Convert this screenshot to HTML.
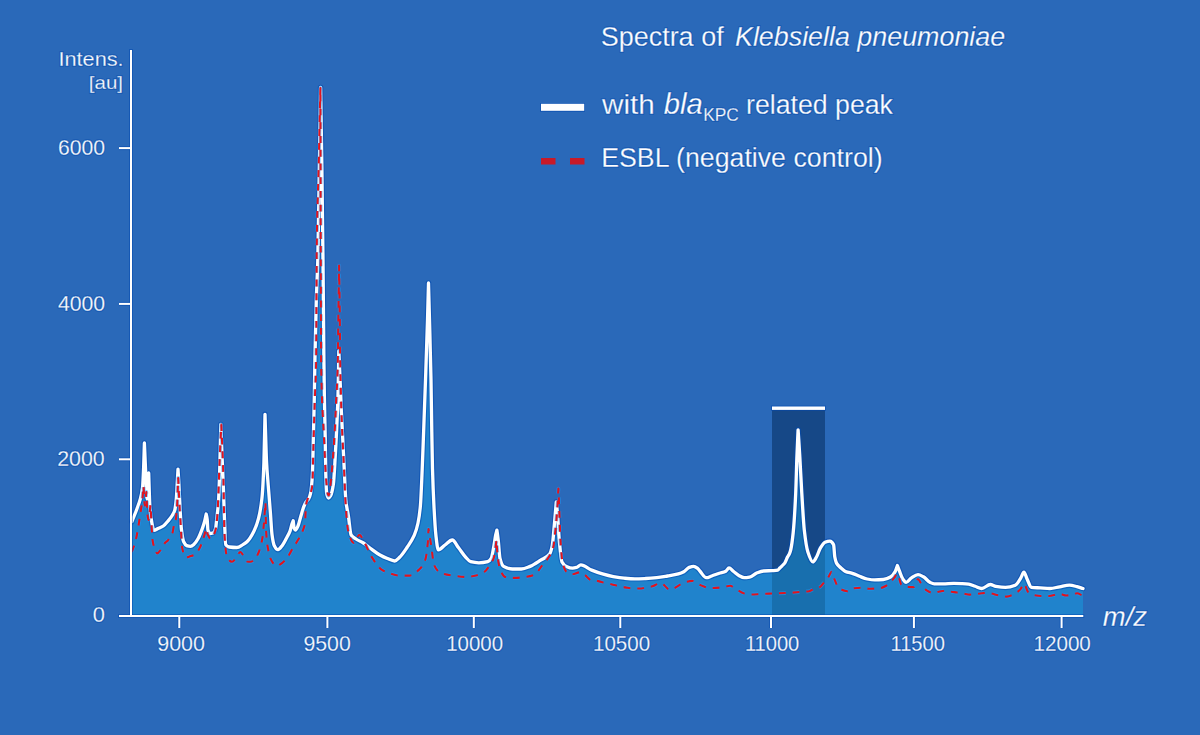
<!DOCTYPE html>
<html><head><meta charset="utf-8"><style>
html,body{margin:0;padding:0;background:#2a69b9;}
body{width:1200px;height:735px;overflow:hidden;position:relative;}
svg{position:absolute;left:0;top:0;}
svg text{font-family:"Liberation Sans",sans-serif;fill:#fff;stroke:#2a69b9;stroke-width:0.3px;}
.halo text{stroke:#0a4fae;stroke-width:2.2px;stroke-opacity:0.6;stroke-linejoin:round;}
</style></head><body>
<svg width="1200" height="735" viewBox="0 0 1200 735">
<defs><clipPath id="rc"><rect x="772" y="410" width="53" height="206"/></clipPath></defs>
<rect x="0" y="0" width="1200" height="735" fill="#2a69b9"/>
<rect x="772" y="410" width="53" height="206" fill="#164887"/>
<path d="M131.90,521.60C133.53,517.47 135.17,513.66 136.80,509.20C138.00,505.92 139.20,503.17 140.40,498.60C141.10,495.93 141.80,493.88 142.50,488.00C142.87,484.92 143.23,476.55 143.60,468.00C143.87,461.78 144.13,451.33 144.40,443.00C144.77,451.33 145.13,460.04 145.50,468.00C146.00,478.85 146.50,499.00 147.00,499.00C147.57,499.00 148.13,481.67 148.70,473.00C149.13,485.00 149.57,503.77 150.00,509.00C150.63,516.65 151.27,519.77 151.90,523.00C152.53,526.23 153.17,530.40 153.80,530.40C155.20,530.40 156.60,529.24 158.00,528.60C159.77,527.79 161.53,527.20 163.30,526.00C164.87,524.94 166.43,522.86 168.00,521.00C169.50,519.22 171.00,517.51 172.50,515.00C173.23,513.77 173.97,512.84 174.70,510.40C175.20,508.74 175.70,504.97 176.20,500.00C176.57,496.35 176.93,488.36 177.30,482.00C177.53,477.95 177.77,473.47 178.00,469.20C178.27,473.47 178.53,477.18 178.80,482.00C179.20,489.22 179.60,500.31 180.00,507.40C180.50,516.26 181.00,525.92 181.50,530.00C182.23,535.98 182.97,540.25 183.70,541.80C184.70,543.92 185.70,545.27 186.70,545.60C187.97,546.02 189.23,546.30 190.50,546.30C191.73,546.30 192.97,545.13 194.20,544.10C195.47,543.05 196.73,541.01 198.00,538.80C199.47,536.24 200.93,532.46 202.40,528.40C203.17,526.28 203.93,523.96 204.70,521.00C205.20,519.07 205.70,516.33 206.20,514.00C206.53,515.80 206.87,516.67 207.20,519.40C207.43,521.31 207.67,529.19 207.90,530.00C208.60,532.43 209.30,533.50 210.00,533.50C210.97,533.50 211.93,533.31 212.90,533.00C213.80,532.72 214.70,531.20 215.60,528.40C216.00,527.15 216.40,521.60 216.80,518.00C217.33,513.21 217.87,510.42 218.40,503.00C218.83,496.97 219.27,483.72 219.70,470.00C220.07,458.39 220.43,439.67 220.80,424.50C221.20,434.67 221.60,445.19 222.00,455.00C222.43,465.63 222.87,474.57 223.30,485.80C223.70,496.16 224.10,510.46 224.50,520.00C224.90,529.54 225.30,544.00 225.70,544.60C226.93,546.45 228.17,546.83 229.40,547.00C231.87,547.33 234.33,547.50 236.80,547.50C238.83,547.50 240.87,545.77 242.90,544.60C244.27,543.81 245.63,542.98 247.00,541.70C249.30,539.55 251.60,535.80 253.90,531.20C255.43,528.13 256.97,524.38 258.50,518.50C259.67,514.03 260.83,508.73 262.00,497.70C262.63,491.71 263.27,479.93 263.90,462.90C264.27,453.04 264.63,430.50 265.00,414.30C265.53,430.50 266.07,452.77 266.60,462.90C267.13,473.03 267.67,477.96 268.20,485.00C268.93,494.68 269.67,503.08 270.40,512.70C270.93,519.69 271.47,530.53 272.00,534.50C272.73,539.96 273.47,543.97 274.20,545.40C275.47,547.87 276.73,549.70 278.00,549.70C279.43,549.70 280.87,547.22 282.30,545.40C283.77,543.54 285.23,540.43 286.70,537.70C287.80,535.66 288.90,534.07 290.00,531.20C290.70,529.37 291.40,525.65 292.10,523.60C292.47,522.52 292.83,521.73 293.20,520.80C293.50,523.20 293.80,527.16 294.10,528.00C294.53,529.21 294.97,530.10 295.40,530.10C296.30,530.10 297.20,527.69 298.10,525.70C299.03,523.64 299.97,519.13 300.90,516.00C301.80,512.98 302.70,509.53 303.60,507.20C304.40,505.13 305.20,503.21 306.00,502.00C306.87,500.69 307.73,500.45 308.60,499.00C309.23,497.94 309.87,496.41 310.50,493.60C311.13,490.79 311.77,485.25 312.40,474.50C312.73,468.84 313.07,449.44 313.40,436.00C313.70,423.91 314.00,413.41 314.30,398.00C314.50,387.73 314.70,370.49 314.90,360.00C315.37,335.51 315.83,315.38 316.30,300.00C316.80,283.52 317.30,278.46 317.80,260.00C318.30,241.54 318.80,200.86 319.30,170.00C319.73,143.25 320.17,115.00 320.60,87.50C321.03,115.00 321.47,138.92 321.90,170.00C322.27,196.30 322.63,225.27 323.00,260.00C323.30,288.42 323.60,333.40 323.90,360.00C324.07,374.78 324.23,388.08 324.40,398.00C324.67,413.87 324.93,421.34 325.20,436.00C325.40,447.00 325.60,467.90 325.80,474.50C326.10,484.40 326.40,492.21 326.70,493.60C327.33,496.52 327.97,498.00 328.60,498.00C329.23,498.00 329.87,497.02 330.50,496.00C331.47,494.44 332.43,490.53 333.40,484.00C334.03,479.72 334.67,466.29 335.30,455.40C335.93,444.51 336.57,432.53 337.20,417.30C337.53,409.28 337.87,402.14 338.20,388.60C338.40,380.47 338.60,363.53 338.80,351.00C339.30,362.33 339.80,373.07 340.30,385.00C340.63,392.95 340.97,402.56 341.30,410.00C341.73,419.68 342.17,427.28 342.60,436.00C343.23,448.74 343.87,461.89 344.50,474.50C344.93,483.13 345.37,495.69 345.80,500.00C346.67,508.62 347.53,510.33 348.40,516.00C349.30,521.89 350.20,533.44 351.10,534.90C352.73,537.54 354.37,537.91 356.00,539.00C358.47,540.64 360.93,541.44 363.40,543.00C365.60,544.39 367.80,546.39 370.00,548.00C373.33,550.43 376.67,553.14 380.00,555.00C382.47,556.38 384.93,557.52 387.40,558.50C389.83,559.47 392.27,561.00 394.70,561.00C396.33,561.00 397.97,558.84 399.60,557.30C402.07,554.97 404.53,551.16 407.00,547.50C409.43,543.89 411.87,540.83 414.30,535.20C415.53,532.35 416.77,528.72 418.00,523.00C418.80,519.29 419.60,514.49 420.40,505.80C421.00,499.28 421.60,482.85 422.20,469.00C422.67,458.22 423.13,444.82 423.60,432.30C424.23,415.31 424.87,398.18 425.50,380.00C426.17,360.87 426.83,342.35 427.50,320.00C427.83,308.83 428.17,295.33 428.50,283.00C428.83,295.33 429.17,307.22 429.50,320.00C430.00,339.17 430.50,354.63 431.00,380.00C431.27,393.53 431.53,416.49 431.80,432.00C432.03,445.57 432.27,460.61 432.50,469.00C432.97,485.79 433.43,495.98 433.90,505.00C434.57,517.88 435.23,529.31 435.90,535.20C436.70,542.26 437.50,549.90 438.30,549.90C440.53,549.90 442.77,546.58 445.00,545.00C447.43,543.28 449.87,540.00 452.30,540.00C454.33,540.00 456.37,544.91 458.40,547.50C460.87,550.64 463.33,554.69 465.80,557.30C467.43,559.03 469.07,561.29 470.70,561.70C473.40,562.38 476.10,562.80 478.80,562.80C481.77,562.80 484.73,562.38 487.70,561.60C488.87,561.29 490.03,560.23 491.20,558.40C492.10,556.99 493.00,550.82 493.90,546.00C494.47,542.97 495.03,538.17 495.60,535.40C496.03,533.28 496.47,531.87 496.90,530.10C497.37,533.63 497.83,536.63 498.30,540.70C498.87,545.64 499.43,556.15 500.00,558.40C501.20,563.16 502.40,565.70 503.60,566.40C506.53,568.11 509.47,569.00 512.40,569.00C515.37,569.00 518.33,569.00 521.30,569.00C524.23,569.00 527.17,567.54 530.10,566.40C533.63,565.03 537.17,562.45 540.70,560.20C543.67,558.31 546.63,557.81 549.60,554.00C550.47,552.89 551.33,550.12 552.20,546.00C552.97,542.35 553.73,531.32 554.50,523.00C555.10,516.49 555.70,508.87 556.30,501.80C556.70,505.93 557.10,509.40 557.50,514.20C558.10,521.40 558.70,534.41 559.30,540.70C560.20,550.14 561.10,560.30 562.00,562.00C563.47,564.77 564.93,565.75 566.40,566.40C568.47,567.32 570.53,568.10 572.60,568.10C573.90,568.10 575.20,567.75 576.50,567.40C577.93,567.01 579.37,564.90 580.80,564.90C584.43,564.90 588.07,568.63 591.70,570.10C595.30,571.56 598.90,572.85 602.50,573.90C606.10,574.95 609.70,575.93 613.30,576.60C616.93,577.27 620.57,577.91 624.20,578.20C627.80,578.49 631.40,578.80 635.00,578.80C638.60,578.80 642.20,578.64 645.80,578.50C649.43,578.35 653.07,578.06 656.70,577.70C660.30,577.34 663.90,576.63 667.50,576.00C671.10,575.37 674.70,574.88 678.30,573.90C680.13,573.40 681.97,572.68 683.80,571.70C685.60,570.74 687.40,568.08 689.20,567.40C690.63,566.86 692.07,566.30 693.50,566.30C694.93,566.30 696.37,567.42 697.80,568.50C698.53,569.05 699.27,570.37 700.00,571.20C702.10,573.59 704.20,577.70 706.30,577.70C708.10,577.70 709.90,576.60 711.70,576.00C714.23,575.16 716.77,574.16 719.30,573.30C721.47,572.57 723.63,572.33 725.80,571.20C726.87,570.64 727.93,567.90 729.00,567.90C730.43,567.90 731.87,570.09 733.30,571.20C735.13,572.62 736.97,574.52 738.80,575.50C740.60,576.46 742.40,577.70 744.20,577.70C746.00,577.70 747.80,577.42 749.60,577.10C752.13,576.65 754.67,573.73 757.20,572.80C759.37,572.00 761.53,571.18 763.70,571.00C766.57,570.76 769.43,570.78 772.30,570.60C774.13,570.48 775.97,570.45 777.80,570.10C778.47,569.97 779.13,568.67 779.80,568.00C780.57,567.23 781.33,566.56 782.10,565.80C782.97,564.94 783.83,564.31 784.70,563.10C785.63,561.80 786.57,558.92 787.50,557.10C788.20,555.73 788.90,554.95 789.60,553.30C790.00,552.36 790.40,551.18 790.80,549.50C791.60,546.14 792.40,540.28 793.20,532.50C794.03,524.40 794.87,511.33 795.70,493.40C796.10,484.80 796.50,467.05 796.90,456.70C797.30,446.35 797.70,438.77 798.10,429.80C798.67,438.77 799.23,447.09 799.80,456.70C800.47,468.01 801.13,482.48 801.80,493.40C802.63,507.05 803.47,522.73 804.30,530.10C805.50,540.72 806.70,548.39 807.90,552.10C809.53,557.15 811.17,561.90 812.80,561.90C814.03,561.90 815.27,559.08 816.50,557.00C817.73,554.92 818.97,550.45 820.20,548.40C821.80,545.74 823.40,542.96 825.00,542.30C826.63,541.63 828.27,541.10 829.90,541.10C831.13,541.10 832.37,542.19 833.60,544.80C834.00,545.65 834.40,554.82 834.80,557.00C835.37,560.09 835.93,562.07 836.50,563.10C838.00,565.83 839.50,566.64 841.00,568.00C842.47,569.32 843.93,570.76 845.40,571.40C847.93,572.51 850.47,572.73 853.00,573.60C855.17,574.34 857.33,575.47 859.50,576.30C862.03,577.27 864.57,578.55 867.10,579.00C869.63,579.45 872.17,579.90 874.70,579.90C877.57,579.90 880.43,579.74 883.30,579.50C885.83,579.29 888.37,578.27 890.90,576.80C892.37,575.95 893.83,574.03 895.30,571.40C896.00,570.15 896.70,567.47 897.40,565.50C898.13,567.47 898.87,569.55 899.60,571.40C900.67,574.10 901.73,577.50 902.80,579.00C903.90,580.55 905.00,582.30 906.10,582.30C907.90,582.30 909.70,579.01 911.50,577.90C913.67,576.56 915.83,574.70 918.00,574.70C919.80,574.70 921.60,575.85 923.40,576.80C925.57,577.94 927.73,581.23 929.90,582.30C931.37,583.03 932.83,583.90 934.30,583.90C937.17,583.90 940.03,583.90 942.90,583.90C946.53,583.90 950.17,583.30 953.80,583.30C956.67,583.30 959.53,583.46 962.40,583.60C964.50,583.70 966.60,583.83 968.70,584.10C970.87,584.38 973.03,585.57 975.20,586.30C977.37,587.03 979.53,588.50 981.70,588.50C984.57,588.50 987.43,584.50 990.30,584.50C992.13,584.50 993.97,585.98 995.80,586.30C999.03,586.87 1002.27,587.40 1005.50,587.40C1008.77,587.40 1012.03,586.54 1015.30,585.20C1017.10,584.46 1018.90,581.00 1020.70,578.20C1021.77,576.54 1022.83,572.20 1023.90,572.20C1025.00,572.20 1026.10,577.08 1027.20,579.30C1028.63,582.19 1030.07,587.22 1031.50,587.40C1034.40,587.76 1037.30,587.73 1040.20,587.90C1043.43,588.09 1046.67,588.50 1049.90,588.50C1053.17,588.50 1056.43,587.35 1059.70,586.80C1062.93,586.25 1066.17,585.20 1069.40,585.20C1071.93,585.20 1074.47,586.00 1077.00,586.60C1079.00,587.07 1081.00,587.87 1083.00,588.50 L1083,616 L131.9,616 Z" fill="#2083cc"/>
<path d="M131.90,521.60C133.53,517.47 135.17,513.66 136.80,509.20C138.00,505.92 139.20,503.17 140.40,498.60C141.10,495.93 141.80,493.88 142.50,488.00C142.87,484.92 143.23,476.55 143.60,468.00C143.87,461.78 144.13,451.33 144.40,443.00C144.77,451.33 145.13,460.04 145.50,468.00C146.00,478.85 146.50,499.00 147.00,499.00C147.57,499.00 148.13,481.67 148.70,473.00C149.13,485.00 149.57,503.77 150.00,509.00C150.63,516.65 151.27,519.77 151.90,523.00C152.53,526.23 153.17,530.40 153.80,530.40C155.20,530.40 156.60,529.24 158.00,528.60C159.77,527.79 161.53,527.20 163.30,526.00C164.87,524.94 166.43,522.86 168.00,521.00C169.50,519.22 171.00,517.51 172.50,515.00C173.23,513.77 173.97,512.84 174.70,510.40C175.20,508.74 175.70,504.97 176.20,500.00C176.57,496.35 176.93,488.36 177.30,482.00C177.53,477.95 177.77,473.47 178.00,469.20C178.27,473.47 178.53,477.18 178.80,482.00C179.20,489.22 179.60,500.31 180.00,507.40C180.50,516.26 181.00,525.92 181.50,530.00C182.23,535.98 182.97,540.25 183.70,541.80C184.70,543.92 185.70,545.27 186.70,545.60C187.97,546.02 189.23,546.30 190.50,546.30C191.73,546.30 192.97,545.13 194.20,544.10C195.47,543.05 196.73,541.01 198.00,538.80C199.47,536.24 200.93,532.46 202.40,528.40C203.17,526.28 203.93,523.96 204.70,521.00C205.20,519.07 205.70,516.33 206.20,514.00C206.53,515.80 206.87,516.67 207.20,519.40C207.43,521.31 207.67,529.19 207.90,530.00C208.60,532.43 209.30,533.50 210.00,533.50C210.97,533.50 211.93,533.31 212.90,533.00C213.80,532.72 214.70,531.20 215.60,528.40C216.00,527.15 216.40,521.60 216.80,518.00C217.33,513.21 217.87,510.42 218.40,503.00C218.83,496.97 219.27,483.72 219.70,470.00C220.07,458.39 220.43,439.67 220.80,424.50C221.20,434.67 221.60,445.19 222.00,455.00C222.43,465.63 222.87,474.57 223.30,485.80C223.70,496.16 224.10,510.46 224.50,520.00C224.90,529.54 225.30,544.00 225.70,544.60C226.93,546.45 228.17,546.83 229.40,547.00C231.87,547.33 234.33,547.50 236.80,547.50C238.83,547.50 240.87,545.77 242.90,544.60C244.27,543.81 245.63,542.98 247.00,541.70C249.30,539.55 251.60,535.80 253.90,531.20C255.43,528.13 256.97,524.38 258.50,518.50C259.67,514.03 260.83,508.73 262.00,497.70C262.63,491.71 263.27,479.93 263.90,462.90C264.27,453.04 264.63,430.50 265.00,414.30C265.53,430.50 266.07,452.77 266.60,462.90C267.13,473.03 267.67,477.96 268.20,485.00C268.93,494.68 269.67,503.08 270.40,512.70C270.93,519.69 271.47,530.53 272.00,534.50C272.73,539.96 273.47,543.97 274.20,545.40C275.47,547.87 276.73,549.70 278.00,549.70C279.43,549.70 280.87,547.22 282.30,545.40C283.77,543.54 285.23,540.43 286.70,537.70C287.80,535.66 288.90,534.07 290.00,531.20C290.70,529.37 291.40,525.65 292.10,523.60C292.47,522.52 292.83,521.73 293.20,520.80C293.50,523.20 293.80,527.16 294.10,528.00C294.53,529.21 294.97,530.10 295.40,530.10C296.30,530.10 297.20,527.69 298.10,525.70C299.03,523.64 299.97,519.13 300.90,516.00C301.80,512.98 302.70,509.53 303.60,507.20C304.40,505.13 305.20,503.21 306.00,502.00C306.87,500.69 307.73,500.45 308.60,499.00C309.23,497.94 309.87,496.41 310.50,493.60C311.13,490.79 311.77,485.25 312.40,474.50C312.73,468.84 313.07,449.44 313.40,436.00C313.70,423.91 314.00,413.41 314.30,398.00C314.50,387.73 314.70,370.49 314.90,360.00C315.37,335.51 315.83,315.38 316.30,300.00C316.80,283.52 317.30,278.46 317.80,260.00C318.30,241.54 318.80,200.86 319.30,170.00C319.73,143.25 320.17,115.00 320.60,87.50C321.03,115.00 321.47,138.92 321.90,170.00C322.27,196.30 322.63,225.27 323.00,260.00C323.30,288.42 323.60,333.40 323.90,360.00C324.07,374.78 324.23,388.08 324.40,398.00C324.67,413.87 324.93,421.34 325.20,436.00C325.40,447.00 325.60,467.90 325.80,474.50C326.10,484.40 326.40,492.21 326.70,493.60C327.33,496.52 327.97,498.00 328.60,498.00C329.23,498.00 329.87,497.02 330.50,496.00C331.47,494.44 332.43,490.53 333.40,484.00C334.03,479.72 334.67,466.29 335.30,455.40C335.93,444.51 336.57,432.53 337.20,417.30C337.53,409.28 337.87,402.14 338.20,388.60C338.40,380.47 338.60,363.53 338.80,351.00C339.30,362.33 339.80,373.07 340.30,385.00C340.63,392.95 340.97,402.56 341.30,410.00C341.73,419.68 342.17,427.28 342.60,436.00C343.23,448.74 343.87,461.89 344.50,474.50C344.93,483.13 345.37,495.69 345.80,500.00C346.67,508.62 347.53,510.33 348.40,516.00C349.30,521.89 350.20,533.44 351.10,534.90C352.73,537.54 354.37,537.91 356.00,539.00C358.47,540.64 360.93,541.44 363.40,543.00C365.60,544.39 367.80,546.39 370.00,548.00C373.33,550.43 376.67,553.14 380.00,555.00C382.47,556.38 384.93,557.52 387.40,558.50C389.83,559.47 392.27,561.00 394.70,561.00C396.33,561.00 397.97,558.84 399.60,557.30C402.07,554.97 404.53,551.16 407.00,547.50C409.43,543.89 411.87,540.83 414.30,535.20C415.53,532.35 416.77,528.72 418.00,523.00C418.80,519.29 419.60,514.49 420.40,505.80C421.00,499.28 421.60,482.85 422.20,469.00C422.67,458.22 423.13,444.82 423.60,432.30C424.23,415.31 424.87,398.18 425.50,380.00C426.17,360.87 426.83,342.35 427.50,320.00C427.83,308.83 428.17,295.33 428.50,283.00C428.83,295.33 429.17,307.22 429.50,320.00C430.00,339.17 430.50,354.63 431.00,380.00C431.27,393.53 431.53,416.49 431.80,432.00C432.03,445.57 432.27,460.61 432.50,469.00C432.97,485.79 433.43,495.98 433.90,505.00C434.57,517.88 435.23,529.31 435.90,535.20C436.70,542.26 437.50,549.90 438.30,549.90C440.53,549.90 442.77,546.58 445.00,545.00C447.43,543.28 449.87,540.00 452.30,540.00C454.33,540.00 456.37,544.91 458.40,547.50C460.87,550.64 463.33,554.69 465.80,557.30C467.43,559.03 469.07,561.29 470.70,561.70C473.40,562.38 476.10,562.80 478.80,562.80C481.77,562.80 484.73,562.38 487.70,561.60C488.87,561.29 490.03,560.23 491.20,558.40C492.10,556.99 493.00,550.82 493.90,546.00C494.47,542.97 495.03,538.17 495.60,535.40C496.03,533.28 496.47,531.87 496.90,530.10C497.37,533.63 497.83,536.63 498.30,540.70C498.87,545.64 499.43,556.15 500.00,558.40C501.20,563.16 502.40,565.70 503.60,566.40C506.53,568.11 509.47,569.00 512.40,569.00C515.37,569.00 518.33,569.00 521.30,569.00C524.23,569.00 527.17,567.54 530.10,566.40C533.63,565.03 537.17,562.45 540.70,560.20C543.67,558.31 546.63,557.81 549.60,554.00C550.47,552.89 551.33,550.12 552.20,546.00C552.97,542.35 553.73,531.32 554.50,523.00C555.10,516.49 555.70,508.87 556.30,501.80C556.70,505.93 557.10,509.40 557.50,514.20C558.10,521.40 558.70,534.41 559.30,540.70C560.20,550.14 561.10,560.30 562.00,562.00C563.47,564.77 564.93,565.75 566.40,566.40C568.47,567.32 570.53,568.10 572.60,568.10C573.90,568.10 575.20,567.75 576.50,567.40C577.93,567.01 579.37,564.90 580.80,564.90C584.43,564.90 588.07,568.63 591.70,570.10C595.30,571.56 598.90,572.85 602.50,573.90C606.10,574.95 609.70,575.93 613.30,576.60C616.93,577.27 620.57,577.91 624.20,578.20C627.80,578.49 631.40,578.80 635.00,578.80C638.60,578.80 642.20,578.64 645.80,578.50C649.43,578.35 653.07,578.06 656.70,577.70C660.30,577.34 663.90,576.63 667.50,576.00C671.10,575.37 674.70,574.88 678.30,573.90C680.13,573.40 681.97,572.68 683.80,571.70C685.60,570.74 687.40,568.08 689.20,567.40C690.63,566.86 692.07,566.30 693.50,566.30C694.93,566.30 696.37,567.42 697.80,568.50C698.53,569.05 699.27,570.37 700.00,571.20C702.10,573.59 704.20,577.70 706.30,577.70C708.10,577.70 709.90,576.60 711.70,576.00C714.23,575.16 716.77,574.16 719.30,573.30C721.47,572.57 723.63,572.33 725.80,571.20C726.87,570.64 727.93,567.90 729.00,567.90C730.43,567.90 731.87,570.09 733.30,571.20C735.13,572.62 736.97,574.52 738.80,575.50C740.60,576.46 742.40,577.70 744.20,577.70C746.00,577.70 747.80,577.42 749.60,577.10C752.13,576.65 754.67,573.73 757.20,572.80C759.37,572.00 761.53,571.18 763.70,571.00C766.57,570.76 769.43,570.78 772.30,570.60C774.13,570.48 775.97,570.45 777.80,570.10C778.47,569.97 779.13,568.67 779.80,568.00C780.57,567.23 781.33,566.56 782.10,565.80C782.97,564.94 783.83,564.31 784.70,563.10C785.63,561.80 786.57,558.92 787.50,557.10C788.20,555.73 788.90,554.95 789.60,553.30C790.00,552.36 790.40,551.18 790.80,549.50C791.60,546.14 792.40,540.28 793.20,532.50C794.03,524.40 794.87,511.33 795.70,493.40C796.10,484.80 796.50,467.05 796.90,456.70C797.30,446.35 797.70,438.77 798.10,429.80C798.67,438.77 799.23,447.09 799.80,456.70C800.47,468.01 801.13,482.48 801.80,493.40C802.63,507.05 803.47,522.73 804.30,530.10C805.50,540.72 806.70,548.39 807.90,552.10C809.53,557.15 811.17,561.90 812.80,561.90C814.03,561.90 815.27,559.08 816.50,557.00C817.73,554.92 818.97,550.45 820.20,548.40C821.80,545.74 823.40,542.96 825.00,542.30C826.63,541.63 828.27,541.10 829.90,541.10C831.13,541.10 832.37,542.19 833.60,544.80C834.00,545.65 834.40,554.82 834.80,557.00C835.37,560.09 835.93,562.07 836.50,563.10C838.00,565.83 839.50,566.64 841.00,568.00C842.47,569.32 843.93,570.76 845.40,571.40C847.93,572.51 850.47,572.73 853.00,573.60C855.17,574.34 857.33,575.47 859.50,576.30C862.03,577.27 864.57,578.55 867.10,579.00C869.63,579.45 872.17,579.90 874.70,579.90C877.57,579.90 880.43,579.74 883.30,579.50C885.83,579.29 888.37,578.27 890.90,576.80C892.37,575.95 893.83,574.03 895.30,571.40C896.00,570.15 896.70,567.47 897.40,565.50C898.13,567.47 898.87,569.55 899.60,571.40C900.67,574.10 901.73,577.50 902.80,579.00C903.90,580.55 905.00,582.30 906.10,582.30C907.90,582.30 909.70,579.01 911.50,577.90C913.67,576.56 915.83,574.70 918.00,574.70C919.80,574.70 921.60,575.85 923.40,576.80C925.57,577.94 927.73,581.23 929.90,582.30C931.37,583.03 932.83,583.90 934.30,583.90C937.17,583.90 940.03,583.90 942.90,583.90C946.53,583.90 950.17,583.30 953.80,583.30C956.67,583.30 959.53,583.46 962.40,583.60C964.50,583.70 966.60,583.83 968.70,584.10C970.87,584.38 973.03,585.57 975.20,586.30C977.37,587.03 979.53,588.50 981.70,588.50C984.57,588.50 987.43,584.50 990.30,584.50C992.13,584.50 993.97,585.98 995.80,586.30C999.03,586.87 1002.27,587.40 1005.50,587.40C1008.77,587.40 1012.03,586.54 1015.30,585.20C1017.10,584.46 1018.90,581.00 1020.70,578.20C1021.77,576.54 1022.83,572.20 1023.90,572.20C1025.00,572.20 1026.10,577.08 1027.20,579.30C1028.63,582.19 1030.07,587.22 1031.50,587.40C1034.40,587.76 1037.30,587.73 1040.20,587.90C1043.43,588.09 1046.67,588.50 1049.90,588.50C1053.17,588.50 1056.43,587.35 1059.70,586.80C1062.93,586.25 1066.17,585.20 1069.40,585.20C1071.93,585.20 1074.47,586.00 1077.00,586.60C1079.00,587.07 1081.00,587.87 1083.00,588.50 L1083,616 L131.9,616 Z" fill="#186fae" clip-path="url(#rc)"/>
<rect x="771" y="405.5" width="55" height="5.4" fill="#0048b0" fill-opacity="0.5"/>
<rect x="772" y="406.5" width="53" height="3.4" fill="#fff"/>
<path d="M131.90,521.60C133.53,517.47 135.17,513.66 136.80,509.20C138.00,505.92 139.20,503.17 140.40,498.60C141.10,495.93 141.80,493.88 142.50,488.00C142.87,484.92 143.23,476.55 143.60,468.00C143.87,461.78 144.13,451.33 144.40,443.00C144.77,451.33 145.13,460.04 145.50,468.00C146.00,478.85 146.50,499.00 147.00,499.00C147.57,499.00 148.13,481.67 148.70,473.00C149.13,485.00 149.57,503.77 150.00,509.00C150.63,516.65 151.27,519.77 151.90,523.00C152.53,526.23 153.17,530.40 153.80,530.40C155.20,530.40 156.60,529.24 158.00,528.60C159.77,527.79 161.53,527.20 163.30,526.00C164.87,524.94 166.43,522.86 168.00,521.00C169.50,519.22 171.00,517.51 172.50,515.00C173.23,513.77 173.97,512.84 174.70,510.40C175.20,508.74 175.70,504.97 176.20,500.00C176.57,496.35 176.93,488.36 177.30,482.00C177.53,477.95 177.77,473.47 178.00,469.20C178.27,473.47 178.53,477.18 178.80,482.00C179.20,489.22 179.60,500.31 180.00,507.40C180.50,516.26 181.00,525.92 181.50,530.00C182.23,535.98 182.97,540.25 183.70,541.80C184.70,543.92 185.70,545.27 186.70,545.60C187.97,546.02 189.23,546.30 190.50,546.30C191.73,546.30 192.97,545.13 194.20,544.10C195.47,543.05 196.73,541.01 198.00,538.80C199.47,536.24 200.93,532.46 202.40,528.40C203.17,526.28 203.93,523.96 204.70,521.00C205.20,519.07 205.70,516.33 206.20,514.00C206.53,515.80 206.87,516.67 207.20,519.40C207.43,521.31 207.67,529.19 207.90,530.00C208.60,532.43 209.30,533.50 210.00,533.50C210.97,533.50 211.93,533.31 212.90,533.00C213.80,532.72 214.70,531.20 215.60,528.40C216.00,527.15 216.40,521.60 216.80,518.00C217.33,513.21 217.87,510.42 218.40,503.00C218.83,496.97 219.27,483.72 219.70,470.00C220.07,458.39 220.43,439.67 220.80,424.50C221.20,434.67 221.60,445.19 222.00,455.00C222.43,465.63 222.87,474.57 223.30,485.80C223.70,496.16 224.10,510.46 224.50,520.00C224.90,529.54 225.30,544.00 225.70,544.60C226.93,546.45 228.17,546.83 229.40,547.00C231.87,547.33 234.33,547.50 236.80,547.50C238.83,547.50 240.87,545.77 242.90,544.60C244.27,543.81 245.63,542.98 247.00,541.70C249.30,539.55 251.60,535.80 253.90,531.20C255.43,528.13 256.97,524.38 258.50,518.50C259.67,514.03 260.83,508.73 262.00,497.70C262.63,491.71 263.27,479.93 263.90,462.90C264.27,453.04 264.63,430.50 265.00,414.30C265.53,430.50 266.07,452.77 266.60,462.90C267.13,473.03 267.67,477.96 268.20,485.00C268.93,494.68 269.67,503.08 270.40,512.70C270.93,519.69 271.47,530.53 272.00,534.50C272.73,539.96 273.47,543.97 274.20,545.40C275.47,547.87 276.73,549.70 278.00,549.70C279.43,549.70 280.87,547.22 282.30,545.40C283.77,543.54 285.23,540.43 286.70,537.70C287.80,535.66 288.90,534.07 290.00,531.20C290.70,529.37 291.40,525.65 292.10,523.60C292.47,522.52 292.83,521.73 293.20,520.80C293.50,523.20 293.80,527.16 294.10,528.00C294.53,529.21 294.97,530.10 295.40,530.10C296.30,530.10 297.20,527.69 298.10,525.70C299.03,523.64 299.97,519.13 300.90,516.00C301.80,512.98 302.70,509.53 303.60,507.20C304.40,505.13 305.20,503.21 306.00,502.00C306.87,500.69 307.73,500.45 308.60,499.00C309.23,497.94 309.87,496.41 310.50,493.60C311.13,490.79 311.77,485.25 312.40,474.50C312.73,468.84 313.07,449.44 313.40,436.00C313.70,423.91 314.00,413.41 314.30,398.00C314.50,387.73 314.70,370.49 314.90,360.00C315.37,335.51 315.83,315.38 316.30,300.00C316.80,283.52 317.30,278.46 317.80,260.00C318.30,241.54 318.80,200.86 319.30,170.00C319.73,143.25 320.17,115.00 320.60,87.50C321.03,115.00 321.47,138.92 321.90,170.00C322.27,196.30 322.63,225.27 323.00,260.00C323.30,288.42 323.60,333.40 323.90,360.00C324.07,374.78 324.23,388.08 324.40,398.00C324.67,413.87 324.93,421.34 325.20,436.00C325.40,447.00 325.60,467.90 325.80,474.50C326.10,484.40 326.40,492.21 326.70,493.60C327.33,496.52 327.97,498.00 328.60,498.00C329.23,498.00 329.87,497.02 330.50,496.00C331.47,494.44 332.43,490.53 333.40,484.00C334.03,479.72 334.67,466.29 335.30,455.40C335.93,444.51 336.57,432.53 337.20,417.30C337.53,409.28 337.87,402.14 338.20,388.60C338.40,380.47 338.60,363.53 338.80,351.00C339.30,362.33 339.80,373.07 340.30,385.00C340.63,392.95 340.97,402.56 341.30,410.00C341.73,419.68 342.17,427.28 342.60,436.00C343.23,448.74 343.87,461.89 344.50,474.50C344.93,483.13 345.37,495.69 345.80,500.00C346.67,508.62 347.53,510.33 348.40,516.00C349.30,521.89 350.20,533.44 351.10,534.90C352.73,537.54 354.37,537.91 356.00,539.00C358.47,540.64 360.93,541.44 363.40,543.00C365.60,544.39 367.80,546.39 370.00,548.00C373.33,550.43 376.67,553.14 380.00,555.00C382.47,556.38 384.93,557.52 387.40,558.50C389.83,559.47 392.27,561.00 394.70,561.00C396.33,561.00 397.97,558.84 399.60,557.30C402.07,554.97 404.53,551.16 407.00,547.50C409.43,543.89 411.87,540.83 414.30,535.20C415.53,532.35 416.77,528.72 418.00,523.00C418.80,519.29 419.60,514.49 420.40,505.80C421.00,499.28 421.60,482.85 422.20,469.00C422.67,458.22 423.13,444.82 423.60,432.30C424.23,415.31 424.87,398.18 425.50,380.00C426.17,360.87 426.83,342.35 427.50,320.00C427.83,308.83 428.17,295.33 428.50,283.00C428.83,295.33 429.17,307.22 429.50,320.00C430.00,339.17 430.50,354.63 431.00,380.00C431.27,393.53 431.53,416.49 431.80,432.00C432.03,445.57 432.27,460.61 432.50,469.00C432.97,485.79 433.43,495.98 433.90,505.00C434.57,517.88 435.23,529.31 435.90,535.20C436.70,542.26 437.50,549.90 438.30,549.90C440.53,549.90 442.77,546.58 445.00,545.00C447.43,543.28 449.87,540.00 452.30,540.00C454.33,540.00 456.37,544.91 458.40,547.50C460.87,550.64 463.33,554.69 465.80,557.30C467.43,559.03 469.07,561.29 470.70,561.70C473.40,562.38 476.10,562.80 478.80,562.80C481.77,562.80 484.73,562.38 487.70,561.60C488.87,561.29 490.03,560.23 491.20,558.40C492.10,556.99 493.00,550.82 493.90,546.00C494.47,542.97 495.03,538.17 495.60,535.40C496.03,533.28 496.47,531.87 496.90,530.10C497.37,533.63 497.83,536.63 498.30,540.70C498.87,545.64 499.43,556.15 500.00,558.40C501.20,563.16 502.40,565.70 503.60,566.40C506.53,568.11 509.47,569.00 512.40,569.00C515.37,569.00 518.33,569.00 521.30,569.00C524.23,569.00 527.17,567.54 530.10,566.40C533.63,565.03 537.17,562.45 540.70,560.20C543.67,558.31 546.63,557.81 549.60,554.00C550.47,552.89 551.33,550.12 552.20,546.00C552.97,542.35 553.73,531.32 554.50,523.00C555.10,516.49 555.70,508.87 556.30,501.80C556.70,505.93 557.10,509.40 557.50,514.20C558.10,521.40 558.70,534.41 559.30,540.70C560.20,550.14 561.10,560.30 562.00,562.00C563.47,564.77 564.93,565.75 566.40,566.40C568.47,567.32 570.53,568.10 572.60,568.10C573.90,568.10 575.20,567.75 576.50,567.40C577.93,567.01 579.37,564.90 580.80,564.90C584.43,564.90 588.07,568.63 591.70,570.10C595.30,571.56 598.90,572.85 602.50,573.90C606.10,574.95 609.70,575.93 613.30,576.60C616.93,577.27 620.57,577.91 624.20,578.20C627.80,578.49 631.40,578.80 635.00,578.80C638.60,578.80 642.20,578.64 645.80,578.50C649.43,578.35 653.07,578.06 656.70,577.70C660.30,577.34 663.90,576.63 667.50,576.00C671.10,575.37 674.70,574.88 678.30,573.90C680.13,573.40 681.97,572.68 683.80,571.70C685.60,570.74 687.40,568.08 689.20,567.40C690.63,566.86 692.07,566.30 693.50,566.30C694.93,566.30 696.37,567.42 697.80,568.50C698.53,569.05 699.27,570.37 700.00,571.20C702.10,573.59 704.20,577.70 706.30,577.70C708.10,577.70 709.90,576.60 711.70,576.00C714.23,575.16 716.77,574.16 719.30,573.30C721.47,572.57 723.63,572.33 725.80,571.20C726.87,570.64 727.93,567.90 729.00,567.90C730.43,567.90 731.87,570.09 733.30,571.20C735.13,572.62 736.97,574.52 738.80,575.50C740.60,576.46 742.40,577.70 744.20,577.70C746.00,577.70 747.80,577.42 749.60,577.10C752.13,576.65 754.67,573.73 757.20,572.80C759.37,572.00 761.53,571.18 763.70,571.00C766.57,570.76 769.43,570.78 772.30,570.60C774.13,570.48 775.97,570.45 777.80,570.10C778.47,569.97 779.13,568.67 779.80,568.00C780.57,567.23 781.33,566.56 782.10,565.80C782.97,564.94 783.83,564.31 784.70,563.10C785.63,561.80 786.57,558.92 787.50,557.10C788.20,555.73 788.90,554.95 789.60,553.30C790.00,552.36 790.40,551.18 790.80,549.50C791.60,546.14 792.40,540.28 793.20,532.50C794.03,524.40 794.87,511.33 795.70,493.40C796.10,484.80 796.50,467.05 796.90,456.70C797.30,446.35 797.70,438.77 798.10,429.80C798.67,438.77 799.23,447.09 799.80,456.70C800.47,468.01 801.13,482.48 801.80,493.40C802.63,507.05 803.47,522.73 804.30,530.10C805.50,540.72 806.70,548.39 807.90,552.10C809.53,557.15 811.17,561.90 812.80,561.90C814.03,561.90 815.27,559.08 816.50,557.00C817.73,554.92 818.97,550.45 820.20,548.40C821.80,545.74 823.40,542.96 825.00,542.30C826.63,541.63 828.27,541.10 829.90,541.10C831.13,541.10 832.37,542.19 833.60,544.80C834.00,545.65 834.40,554.82 834.80,557.00C835.37,560.09 835.93,562.07 836.50,563.10C838.00,565.83 839.50,566.64 841.00,568.00C842.47,569.32 843.93,570.76 845.40,571.40C847.93,572.51 850.47,572.73 853.00,573.60C855.17,574.34 857.33,575.47 859.50,576.30C862.03,577.27 864.57,578.55 867.10,579.00C869.63,579.45 872.17,579.90 874.70,579.90C877.57,579.90 880.43,579.74 883.30,579.50C885.83,579.29 888.37,578.27 890.90,576.80C892.37,575.95 893.83,574.03 895.30,571.40C896.00,570.15 896.70,567.47 897.40,565.50C898.13,567.47 898.87,569.55 899.60,571.40C900.67,574.10 901.73,577.50 902.80,579.00C903.90,580.55 905.00,582.30 906.10,582.30C907.90,582.30 909.70,579.01 911.50,577.90C913.67,576.56 915.83,574.70 918.00,574.70C919.80,574.70 921.60,575.85 923.40,576.80C925.57,577.94 927.73,581.23 929.90,582.30C931.37,583.03 932.83,583.90 934.30,583.90C937.17,583.90 940.03,583.90 942.90,583.90C946.53,583.90 950.17,583.30 953.80,583.30C956.67,583.30 959.53,583.46 962.40,583.60C964.50,583.70 966.60,583.83 968.70,584.10C970.87,584.38 973.03,585.57 975.20,586.30C977.37,587.03 979.53,588.50 981.70,588.50C984.57,588.50 987.43,584.50 990.30,584.50C992.13,584.50 993.97,585.98 995.80,586.30C999.03,586.87 1002.27,587.40 1005.50,587.40C1008.77,587.40 1012.03,586.54 1015.30,585.20C1017.10,584.46 1018.90,581.00 1020.70,578.20C1021.77,576.54 1022.83,572.20 1023.90,572.20C1025.00,572.20 1026.10,577.08 1027.20,579.30C1028.63,582.19 1030.07,587.22 1031.50,587.40C1034.40,587.76 1037.30,587.73 1040.20,587.90C1043.43,588.09 1046.67,588.50 1049.90,588.50C1053.17,588.50 1056.43,587.35 1059.70,586.80C1062.93,586.25 1066.17,585.20 1069.40,585.20C1071.93,585.20 1074.47,586.00 1077.00,586.60C1079.00,587.07 1081.00,587.87 1083.00,588.50" fill="none" stroke="#0048b0" stroke-opacity="0.55" stroke-width="5.6" stroke-linejoin="round" stroke-linecap="round"/>
<path d="M131.90,521.60C133.53,517.47 135.17,513.66 136.80,509.20C138.00,505.92 139.20,503.17 140.40,498.60C141.10,495.93 141.80,493.88 142.50,488.00C142.87,484.92 143.23,476.55 143.60,468.00C143.87,461.78 144.13,451.33 144.40,443.00C144.77,451.33 145.13,460.04 145.50,468.00C146.00,478.85 146.50,499.00 147.00,499.00C147.57,499.00 148.13,481.67 148.70,473.00C149.13,485.00 149.57,503.77 150.00,509.00C150.63,516.65 151.27,519.77 151.90,523.00C152.53,526.23 153.17,530.40 153.80,530.40C155.20,530.40 156.60,529.24 158.00,528.60C159.77,527.79 161.53,527.20 163.30,526.00C164.87,524.94 166.43,522.86 168.00,521.00C169.50,519.22 171.00,517.51 172.50,515.00C173.23,513.77 173.97,512.84 174.70,510.40C175.20,508.74 175.70,504.97 176.20,500.00C176.57,496.35 176.93,488.36 177.30,482.00C177.53,477.95 177.77,473.47 178.00,469.20C178.27,473.47 178.53,477.18 178.80,482.00C179.20,489.22 179.60,500.31 180.00,507.40C180.50,516.26 181.00,525.92 181.50,530.00C182.23,535.98 182.97,540.25 183.70,541.80C184.70,543.92 185.70,545.27 186.70,545.60C187.97,546.02 189.23,546.30 190.50,546.30C191.73,546.30 192.97,545.13 194.20,544.10C195.47,543.05 196.73,541.01 198.00,538.80C199.47,536.24 200.93,532.46 202.40,528.40C203.17,526.28 203.93,523.96 204.70,521.00C205.20,519.07 205.70,516.33 206.20,514.00C206.53,515.80 206.87,516.67 207.20,519.40C207.43,521.31 207.67,529.19 207.90,530.00C208.60,532.43 209.30,533.50 210.00,533.50C210.97,533.50 211.93,533.31 212.90,533.00C213.80,532.72 214.70,531.20 215.60,528.40C216.00,527.15 216.40,521.60 216.80,518.00C217.33,513.21 217.87,510.42 218.40,503.00C218.83,496.97 219.27,483.72 219.70,470.00C220.07,458.39 220.43,439.67 220.80,424.50C221.20,434.67 221.60,445.19 222.00,455.00C222.43,465.63 222.87,474.57 223.30,485.80C223.70,496.16 224.10,510.46 224.50,520.00C224.90,529.54 225.30,544.00 225.70,544.60C226.93,546.45 228.17,546.83 229.40,547.00C231.87,547.33 234.33,547.50 236.80,547.50C238.83,547.50 240.87,545.77 242.90,544.60C244.27,543.81 245.63,542.98 247.00,541.70C249.30,539.55 251.60,535.80 253.90,531.20C255.43,528.13 256.97,524.38 258.50,518.50C259.67,514.03 260.83,508.73 262.00,497.70C262.63,491.71 263.27,479.93 263.90,462.90C264.27,453.04 264.63,430.50 265.00,414.30C265.53,430.50 266.07,452.77 266.60,462.90C267.13,473.03 267.67,477.96 268.20,485.00C268.93,494.68 269.67,503.08 270.40,512.70C270.93,519.69 271.47,530.53 272.00,534.50C272.73,539.96 273.47,543.97 274.20,545.40C275.47,547.87 276.73,549.70 278.00,549.70C279.43,549.70 280.87,547.22 282.30,545.40C283.77,543.54 285.23,540.43 286.70,537.70C287.80,535.66 288.90,534.07 290.00,531.20C290.70,529.37 291.40,525.65 292.10,523.60C292.47,522.52 292.83,521.73 293.20,520.80C293.50,523.20 293.80,527.16 294.10,528.00C294.53,529.21 294.97,530.10 295.40,530.10C296.30,530.10 297.20,527.69 298.10,525.70C299.03,523.64 299.97,519.13 300.90,516.00C301.80,512.98 302.70,509.53 303.60,507.20C304.40,505.13 305.20,503.21 306.00,502.00C306.87,500.69 307.73,500.45 308.60,499.00C309.23,497.94 309.87,496.41 310.50,493.60C311.13,490.79 311.77,485.25 312.40,474.50C312.73,468.84 313.07,449.44 313.40,436.00C313.70,423.91 314.00,413.41 314.30,398.00C314.50,387.73 314.70,370.49 314.90,360.00C315.37,335.51 315.83,315.38 316.30,300.00C316.80,283.52 317.30,278.46 317.80,260.00C318.30,241.54 318.80,200.86 319.30,170.00C319.73,143.25 320.17,115.00 320.60,87.50C321.03,115.00 321.47,138.92 321.90,170.00C322.27,196.30 322.63,225.27 323.00,260.00C323.30,288.42 323.60,333.40 323.90,360.00C324.07,374.78 324.23,388.08 324.40,398.00C324.67,413.87 324.93,421.34 325.20,436.00C325.40,447.00 325.60,467.90 325.80,474.50C326.10,484.40 326.40,492.21 326.70,493.60C327.33,496.52 327.97,498.00 328.60,498.00C329.23,498.00 329.87,497.02 330.50,496.00C331.47,494.44 332.43,490.53 333.40,484.00C334.03,479.72 334.67,466.29 335.30,455.40C335.93,444.51 336.57,432.53 337.20,417.30C337.53,409.28 337.87,402.14 338.20,388.60C338.40,380.47 338.60,363.53 338.80,351.00C339.30,362.33 339.80,373.07 340.30,385.00C340.63,392.95 340.97,402.56 341.30,410.00C341.73,419.68 342.17,427.28 342.60,436.00C343.23,448.74 343.87,461.89 344.50,474.50C344.93,483.13 345.37,495.69 345.80,500.00C346.67,508.62 347.53,510.33 348.40,516.00C349.30,521.89 350.20,533.44 351.10,534.90C352.73,537.54 354.37,537.91 356.00,539.00C358.47,540.64 360.93,541.44 363.40,543.00C365.60,544.39 367.80,546.39 370.00,548.00C373.33,550.43 376.67,553.14 380.00,555.00C382.47,556.38 384.93,557.52 387.40,558.50C389.83,559.47 392.27,561.00 394.70,561.00C396.33,561.00 397.97,558.84 399.60,557.30C402.07,554.97 404.53,551.16 407.00,547.50C409.43,543.89 411.87,540.83 414.30,535.20C415.53,532.35 416.77,528.72 418.00,523.00C418.80,519.29 419.60,514.49 420.40,505.80C421.00,499.28 421.60,482.85 422.20,469.00C422.67,458.22 423.13,444.82 423.60,432.30C424.23,415.31 424.87,398.18 425.50,380.00C426.17,360.87 426.83,342.35 427.50,320.00C427.83,308.83 428.17,295.33 428.50,283.00C428.83,295.33 429.17,307.22 429.50,320.00C430.00,339.17 430.50,354.63 431.00,380.00C431.27,393.53 431.53,416.49 431.80,432.00C432.03,445.57 432.27,460.61 432.50,469.00C432.97,485.79 433.43,495.98 433.90,505.00C434.57,517.88 435.23,529.31 435.90,535.20C436.70,542.26 437.50,549.90 438.30,549.90C440.53,549.90 442.77,546.58 445.00,545.00C447.43,543.28 449.87,540.00 452.30,540.00C454.33,540.00 456.37,544.91 458.40,547.50C460.87,550.64 463.33,554.69 465.80,557.30C467.43,559.03 469.07,561.29 470.70,561.70C473.40,562.38 476.10,562.80 478.80,562.80C481.77,562.80 484.73,562.38 487.70,561.60C488.87,561.29 490.03,560.23 491.20,558.40C492.10,556.99 493.00,550.82 493.90,546.00C494.47,542.97 495.03,538.17 495.60,535.40C496.03,533.28 496.47,531.87 496.90,530.10C497.37,533.63 497.83,536.63 498.30,540.70C498.87,545.64 499.43,556.15 500.00,558.40C501.20,563.16 502.40,565.70 503.60,566.40C506.53,568.11 509.47,569.00 512.40,569.00C515.37,569.00 518.33,569.00 521.30,569.00C524.23,569.00 527.17,567.54 530.10,566.40C533.63,565.03 537.17,562.45 540.70,560.20C543.67,558.31 546.63,557.81 549.60,554.00C550.47,552.89 551.33,550.12 552.20,546.00C552.97,542.35 553.73,531.32 554.50,523.00C555.10,516.49 555.70,508.87 556.30,501.80C556.70,505.93 557.10,509.40 557.50,514.20C558.10,521.40 558.70,534.41 559.30,540.70C560.20,550.14 561.10,560.30 562.00,562.00C563.47,564.77 564.93,565.75 566.40,566.40C568.47,567.32 570.53,568.10 572.60,568.10C573.90,568.10 575.20,567.75 576.50,567.40C577.93,567.01 579.37,564.90 580.80,564.90C584.43,564.90 588.07,568.63 591.70,570.10C595.30,571.56 598.90,572.85 602.50,573.90C606.10,574.95 609.70,575.93 613.30,576.60C616.93,577.27 620.57,577.91 624.20,578.20C627.80,578.49 631.40,578.80 635.00,578.80C638.60,578.80 642.20,578.64 645.80,578.50C649.43,578.35 653.07,578.06 656.70,577.70C660.30,577.34 663.90,576.63 667.50,576.00C671.10,575.37 674.70,574.88 678.30,573.90C680.13,573.40 681.97,572.68 683.80,571.70C685.60,570.74 687.40,568.08 689.20,567.40C690.63,566.86 692.07,566.30 693.50,566.30C694.93,566.30 696.37,567.42 697.80,568.50C698.53,569.05 699.27,570.37 700.00,571.20C702.10,573.59 704.20,577.70 706.30,577.70C708.10,577.70 709.90,576.60 711.70,576.00C714.23,575.16 716.77,574.16 719.30,573.30C721.47,572.57 723.63,572.33 725.80,571.20C726.87,570.64 727.93,567.90 729.00,567.90C730.43,567.90 731.87,570.09 733.30,571.20C735.13,572.62 736.97,574.52 738.80,575.50C740.60,576.46 742.40,577.70 744.20,577.70C746.00,577.70 747.80,577.42 749.60,577.10C752.13,576.65 754.67,573.73 757.20,572.80C759.37,572.00 761.53,571.18 763.70,571.00C766.57,570.76 769.43,570.78 772.30,570.60C774.13,570.48 775.97,570.45 777.80,570.10C778.47,569.97 779.13,568.67 779.80,568.00C780.57,567.23 781.33,566.56 782.10,565.80C782.97,564.94 783.83,564.31 784.70,563.10C785.63,561.80 786.57,558.92 787.50,557.10C788.20,555.73 788.90,554.95 789.60,553.30C790.00,552.36 790.40,551.18 790.80,549.50C791.60,546.14 792.40,540.28 793.20,532.50C794.03,524.40 794.87,511.33 795.70,493.40C796.10,484.80 796.50,467.05 796.90,456.70C797.30,446.35 797.70,438.77 798.10,429.80C798.67,438.77 799.23,447.09 799.80,456.70C800.47,468.01 801.13,482.48 801.80,493.40C802.63,507.05 803.47,522.73 804.30,530.10C805.50,540.72 806.70,548.39 807.90,552.10C809.53,557.15 811.17,561.90 812.80,561.90C814.03,561.90 815.27,559.08 816.50,557.00C817.73,554.92 818.97,550.45 820.20,548.40C821.80,545.74 823.40,542.96 825.00,542.30C826.63,541.63 828.27,541.10 829.90,541.10C831.13,541.10 832.37,542.19 833.60,544.80C834.00,545.65 834.40,554.82 834.80,557.00C835.37,560.09 835.93,562.07 836.50,563.10C838.00,565.83 839.50,566.64 841.00,568.00C842.47,569.32 843.93,570.76 845.40,571.40C847.93,572.51 850.47,572.73 853.00,573.60C855.17,574.34 857.33,575.47 859.50,576.30C862.03,577.27 864.57,578.55 867.10,579.00C869.63,579.45 872.17,579.90 874.70,579.90C877.57,579.90 880.43,579.74 883.30,579.50C885.83,579.29 888.37,578.27 890.90,576.80C892.37,575.95 893.83,574.03 895.30,571.40C896.00,570.15 896.70,567.47 897.40,565.50C898.13,567.47 898.87,569.55 899.60,571.40C900.67,574.10 901.73,577.50 902.80,579.00C903.90,580.55 905.00,582.30 906.10,582.30C907.90,582.30 909.70,579.01 911.50,577.90C913.67,576.56 915.83,574.70 918.00,574.70C919.80,574.70 921.60,575.85 923.40,576.80C925.57,577.94 927.73,581.23 929.90,582.30C931.37,583.03 932.83,583.90 934.30,583.90C937.17,583.90 940.03,583.90 942.90,583.90C946.53,583.90 950.17,583.30 953.80,583.30C956.67,583.30 959.53,583.46 962.40,583.60C964.50,583.70 966.60,583.83 968.70,584.10C970.87,584.38 973.03,585.57 975.20,586.30C977.37,587.03 979.53,588.50 981.70,588.50C984.57,588.50 987.43,584.50 990.30,584.50C992.13,584.50 993.97,585.98 995.80,586.30C999.03,586.87 1002.27,587.40 1005.50,587.40C1008.77,587.40 1012.03,586.54 1015.30,585.20C1017.10,584.46 1018.90,581.00 1020.70,578.20C1021.77,576.54 1022.83,572.20 1023.90,572.20C1025.00,572.20 1026.10,577.08 1027.20,579.30C1028.63,582.19 1030.07,587.22 1031.50,587.40C1034.40,587.76 1037.30,587.73 1040.20,587.90C1043.43,588.09 1046.67,588.50 1049.90,588.50C1053.17,588.50 1056.43,587.35 1059.70,586.80C1062.93,586.25 1066.17,585.20 1069.40,585.20C1071.93,585.20 1074.47,586.00 1077.00,586.60C1079.00,587.07 1081.00,587.87 1083.00,588.50" fill="none" stroke="#fff" stroke-width="3.3" stroke-linejoin="round" stroke-linecap="round"/>
<path d="M131.90,552.00C133.27,547.67 134.63,544.56 136.00,539.00C136.87,535.47 137.73,530.18 138.60,525.00C139.30,520.81 140.00,515.58 140.70,511.00C141.17,507.95 141.63,505.84 142.10,502.00C142.57,498.16 143.03,491.33 143.50,486.00C143.93,492.57 144.37,505.70 144.80,505.70C145.30,505.70 145.80,496.57 146.30,492.00C146.70,499.67 147.10,511.88 147.50,515.00C147.83,517.60 148.17,520.00 148.50,520.00C149.17,520.00 149.83,510.00 150.50,505.00C151.23,517.00 151.97,536.48 152.70,541.00C153.30,544.69 153.90,546.38 154.50,548.00C155.40,550.43 156.30,553.40 157.20,553.40C158.37,553.40 159.53,551.25 160.70,549.80C162.17,547.98 163.63,544.41 165.10,542.80C166.07,541.74 167.03,541.46 168.00,540.30C168.80,539.34 169.60,536.98 170.40,535.70C171.10,534.58 171.80,534.38 172.50,532.80C173.00,531.67 173.50,526.76 174.00,525.00C174.50,523.24 175.00,523.06 175.50,521.00C176.00,518.94 176.50,514.13 177.00,507.40C177.40,502.01 177.80,487.80 178.20,478.00C178.53,485.33 178.87,493.57 179.20,500.00C179.70,509.65 180.20,517.46 180.70,525.40C181.20,533.34 181.70,545.00 182.20,547.80C182.97,552.10 183.73,554.13 184.50,555.30C185.23,556.42 185.97,557.50 186.70,557.50C187.47,557.50 188.23,556.97 189.00,556.70C190.97,556.01 192.93,555.73 194.90,554.60C196.40,553.73 197.90,551.26 199.40,548.60C200.67,546.35 201.93,542.57 203.20,538.80C204.20,535.83 205.20,531.87 206.20,528.40C206.70,530.37 207.20,533.16 207.70,534.30C208.70,536.59 209.70,538.80 210.70,538.80C211.43,538.80 212.17,537.65 212.90,536.60C213.90,535.17 214.90,532.86 215.90,528.40C216.40,526.17 216.90,521.29 217.40,514.90C218.13,505.53 218.87,478.07 219.60,461.30C220.17,448.34 220.73,436.77 221.30,424.50C221.97,440.83 222.63,450.76 223.30,473.50C223.70,487.15 224.10,528.23 224.50,534.80C225.33,548.49 226.17,555.26 227.00,556.90C228.63,560.11 230.27,561.80 231.90,561.80C233.27,561.80 234.63,559.50 236.00,558.00C237.47,556.39 238.93,552.00 240.40,552.00C241.63,552.00 242.87,555.23 244.10,557.00C245.07,558.39 246.03,561.17 247.00,561.40C248.07,561.65 249.13,561.80 250.20,561.80C251.43,561.80 252.67,561.03 253.90,560.20C255.53,559.11 257.17,555.92 258.80,552.00C260.03,549.04 261.27,544.80 262.50,537.30C262.83,535.27 263.17,531.36 263.50,527.80C264.17,520.68 264.83,510.93 265.50,502.50C265.67,511.33 265.83,525.88 266.00,529.00C266.73,542.73 267.47,545.62 268.20,549.70C268.93,553.78 269.67,556.59 270.40,558.40C271.27,560.54 272.13,561.89 273.00,563.00C274.00,564.29 275.00,566.00 276.00,566.00C277.33,566.00 278.67,565.18 280.00,564.50C282.23,563.35 284.47,561.04 286.70,558.40C288.87,555.84 291.03,551.02 293.20,547.50C295.03,544.52 296.87,542.09 298.70,538.80C300.13,536.23 301.57,533.98 303.00,530.00C303.73,527.96 304.47,527.10 305.20,521.40C305.40,519.85 305.60,508.96 305.80,507.20C306.33,502.51 306.87,501.23 307.40,499.60C308.10,497.47 308.80,496.70 309.50,495.00C310.27,493.14 311.03,492.14 311.80,488.70C312.00,487.80 312.20,486.39 312.40,484.00C312.83,478.81 313.27,450.76 313.70,436.00C314.10,422.38 314.50,410.17 314.90,398.00C315.33,384.82 315.77,385.22 316.20,360.00C316.37,350.30 316.53,263.57 316.70,250.00C317.33,198.43 317.97,197.73 318.60,170.00C319.20,143.73 319.80,115.33 320.40,88.00C320.50,142.00 320.60,212.99 320.70,250.00C320.83,299.35 320.97,349.23 321.10,360.00C321.40,384.24 321.70,389.50 322.00,398.00C322.63,415.95 323.27,423.25 323.90,436.00C324.53,448.75 325.17,465.99 325.80,474.50C326.43,483.01 327.07,491.55 327.70,493.60C328.00,494.57 328.30,495.50 328.60,495.50C329.57,495.50 330.53,483.56 331.50,474.50C332.47,465.44 333.43,451.65 334.40,436.00C335.03,425.75 335.67,411.40 336.30,398.00C336.73,388.83 337.17,383.94 337.60,369.00C337.93,357.51 338.27,322.96 338.60,300.00C338.77,288.52 338.93,277.07 339.10,265.60C339.27,277.07 339.43,286.49 339.60,300.00C339.80,316.21 340.00,346.90 340.20,360.00C340.47,377.47 340.73,388.55 341.00,398.00C341.47,414.53 341.93,425.09 342.40,436.00C343.03,450.80 343.67,460.14 344.30,474.50C344.60,481.30 344.90,492.06 345.20,497.00C346.27,514.57 347.33,528.41 348.40,532.20C350.23,538.71 352.07,543.00 353.90,543.00C355.70,543.00 357.50,534.90 359.30,534.90C361.10,534.90 362.90,539.93 364.70,543.00C366.97,546.86 369.23,553.05 371.50,556.60C375.13,562.29 378.77,568.05 382.40,570.20C384.87,571.66 387.33,572.44 389.80,573.20C393.07,574.21 396.33,575.60 399.60,575.60C402.87,575.60 406.13,575.60 409.40,575.60C412.67,575.60 415.93,572.53 419.20,569.50C421.23,567.61 423.27,565.50 425.30,559.70C426.13,557.32 426.97,551.78 427.80,542.50C428.03,539.90 428.27,533.50 428.50,529.00C429.50,535.17 430.50,540.87 431.50,547.50C432.30,552.80 433.10,562.78 433.90,564.60C436.37,570.22 438.83,572.32 441.30,573.20C445.37,574.65 449.43,575.04 453.50,575.60C457.60,576.16 461.70,576.90 465.80,576.90C469.57,576.90 473.33,576.07 477.10,575.20C479.43,574.66 481.77,573.72 484.10,572.20C485.90,571.03 487.70,568.17 489.50,565.50C490.97,563.32 492.43,561.92 493.90,557.50C494.77,554.89 495.63,545.83 496.50,540.00C496.87,545.33 497.23,552.93 497.60,556.00C498.40,562.69 499.20,566.99 500.00,569.00C501.80,573.52 503.60,576.63 505.40,577.00C508.33,577.60 511.27,577.90 514.20,577.90C517.73,577.90 521.27,577.45 524.80,577.00C528.33,576.55 531.87,575.93 535.40,574.30C537.17,573.48 538.93,569.58 540.70,567.30C543.07,564.25 545.43,562.09 547.80,558.40C549.57,555.65 551.33,553.82 553.10,547.80C554.00,544.73 554.90,535.42 555.80,526.60C556.37,521.04 556.93,514.05 557.50,505.40C557.80,500.82 558.10,494.20 558.40,488.60C558.70,495.97 559.00,503.27 559.30,510.70C559.70,520.61 560.10,534.72 560.50,540.70C561.27,552.17 562.03,560.97 562.80,563.70C564.30,569.04 565.80,571.76 567.30,572.60C569.07,573.59 570.83,574.30 572.60,574.30C575.00,574.30 577.40,572.30 579.80,572.30C581.23,572.30 582.67,573.55 584.10,574.40C586.63,575.90 589.17,580.00 591.70,580.40C593.50,580.69 595.30,580.66 597.10,580.90C600.00,581.28 602.90,582.45 605.80,583.10C607.60,583.50 609.40,583.80 611.20,584.20C614.07,584.83 616.93,585.67 619.80,586.30C621.63,586.70 623.47,587.11 625.30,587.40C628.17,587.85 631.03,588.50 633.90,588.50C635.70,588.50 637.50,588.50 639.30,588.50C641.83,588.50 644.37,587.83 646.90,587.40C648.70,587.09 650.50,586.79 652.30,586.30C654.47,585.71 656.63,584.06 658.80,583.60C659.90,583.37 661.00,583.10 662.10,583.10C662.83,583.10 663.57,584.64 664.30,585.30C666.10,586.92 667.90,589.60 669.70,589.60C670.77,589.60 671.83,589.30 672.90,589.00C674.37,588.59 675.83,587.12 677.30,586.30C680.17,584.70 683.03,582.71 685.90,582.00C688.07,581.46 690.23,580.90 692.40,580.90C694.60,580.90 696.80,583.62 699.00,584.50C702.87,586.04 706.73,588.00 710.60,588.00C714.57,588.00 718.53,587.74 722.50,587.40C725.03,587.18 727.57,585.80 730.10,585.80C731.53,585.80 732.97,587.24 734.40,588.00C737.67,589.72 740.93,592.67 744.20,593.40C746.73,593.97 749.27,594.50 751.80,594.50C755.03,594.50 758.27,594.04 761.50,593.90C766.57,593.68 771.63,593.60 776.70,593.40C781.03,593.23 785.37,593.06 789.70,592.80C793.73,592.56 797.77,592.13 801.80,591.80C804.27,591.60 806.73,591.56 809.20,591.20C810.80,590.96 812.40,589.41 814.00,588.80C816.00,588.04 818.00,587.99 820.00,587.00C821.27,586.37 822.53,584.20 823.80,582.70C825.43,580.77 827.07,578.97 828.70,576.60C829.67,575.20 830.63,571.70 831.60,571.70C832.67,571.70 833.73,577.76 834.80,580.20C836.03,583.02 837.27,586.60 838.50,587.60C840.93,589.57 843.37,590.43 845.80,591.00C846.77,591.23 847.73,591.50 848.70,591.50C850.50,591.50 852.30,588.42 854.10,588.20C856.63,587.88 859.17,587.70 861.70,587.70C864.23,587.70 866.77,588.80 869.30,588.80C872.90,588.80 876.50,588.58 880.10,588.20C882.27,587.97 884.43,586.76 886.60,585.50C889.13,584.03 891.67,580.86 894.20,577.90C895.27,576.65 896.33,573.60 897.40,573.60C898.67,573.60 899.93,583.18 901.20,584.40C902.47,585.62 903.73,586.45 905.00,586.60C907.90,586.94 910.80,587.10 913.70,587.10C915.13,587.10 916.57,579.00 918.00,579.00C918.90,579.00 919.80,581.59 920.70,582.80C922.70,585.48 924.70,589.14 926.70,590.40C928.87,591.76 931.03,593.10 933.20,593.10C935.37,593.10 937.53,591.90 939.70,591.50C941.50,591.17 943.30,590.70 945.10,590.70C947.27,590.70 949.43,591.48 951.60,591.80C953.40,592.06 955.20,592.24 957.00,592.50C959.17,592.82 961.33,593.25 963.50,593.60C965.60,593.94 967.70,594.60 969.80,594.60C973.77,594.60 977.73,593.75 981.70,593.30C983.13,593.14 984.57,592.80 986.00,592.80C987.43,592.80 988.87,593.08 990.30,593.30C993.20,593.74 996.10,594.97 999.00,595.50C1001.53,595.96 1004.07,596.60 1006.60,596.60C1009.50,596.60 1012.40,594.85 1015.30,593.30C1017.10,592.34 1018.90,590.92 1020.70,588.90C1021.77,587.70 1022.83,583.60 1023.90,583.60C1025.37,583.60 1026.83,591.11 1028.30,592.30C1030.10,593.77 1031.90,594.61 1033.70,595.00C1036.23,595.55 1038.77,596.00 1041.30,596.00C1043.80,596.00 1046.30,596.00 1048.80,596.00C1052.43,596.00 1056.07,593.90 1059.70,593.90C1061.87,593.90 1064.03,595.50 1066.20,595.50C1068.37,595.50 1070.53,595.02 1072.70,594.60C1074.13,594.32 1075.57,593.30 1077.00,593.30C1078.80,593.30 1080.60,594.77 1082.40,595.50" fill="none" stroke="#1aa0ff" stroke-opacity="0.5" stroke-width="3.8" stroke-dasharray="6.8,6.9" stroke-linejoin="round"/>
<path d="M131.90,552.00C133.27,547.67 134.63,544.56 136.00,539.00C136.87,535.47 137.73,530.18 138.60,525.00C139.30,520.81 140.00,515.58 140.70,511.00C141.17,507.95 141.63,505.84 142.10,502.00C142.57,498.16 143.03,491.33 143.50,486.00C143.93,492.57 144.37,505.70 144.80,505.70C145.30,505.70 145.80,496.57 146.30,492.00C146.70,499.67 147.10,511.88 147.50,515.00C147.83,517.60 148.17,520.00 148.50,520.00C149.17,520.00 149.83,510.00 150.50,505.00C151.23,517.00 151.97,536.48 152.70,541.00C153.30,544.69 153.90,546.38 154.50,548.00C155.40,550.43 156.30,553.40 157.20,553.40C158.37,553.40 159.53,551.25 160.70,549.80C162.17,547.98 163.63,544.41 165.10,542.80C166.07,541.74 167.03,541.46 168.00,540.30C168.80,539.34 169.60,536.98 170.40,535.70C171.10,534.58 171.80,534.38 172.50,532.80C173.00,531.67 173.50,526.76 174.00,525.00C174.50,523.24 175.00,523.06 175.50,521.00C176.00,518.94 176.50,514.13 177.00,507.40C177.40,502.01 177.80,487.80 178.20,478.00C178.53,485.33 178.87,493.57 179.20,500.00C179.70,509.65 180.20,517.46 180.70,525.40C181.20,533.34 181.70,545.00 182.20,547.80C182.97,552.10 183.73,554.13 184.50,555.30C185.23,556.42 185.97,557.50 186.70,557.50C187.47,557.50 188.23,556.97 189.00,556.70C190.97,556.01 192.93,555.73 194.90,554.60C196.40,553.73 197.90,551.26 199.40,548.60C200.67,546.35 201.93,542.57 203.20,538.80C204.20,535.83 205.20,531.87 206.20,528.40C206.70,530.37 207.20,533.16 207.70,534.30C208.70,536.59 209.70,538.80 210.70,538.80C211.43,538.80 212.17,537.65 212.90,536.60C213.90,535.17 214.90,532.86 215.90,528.40C216.40,526.17 216.90,521.29 217.40,514.90C218.13,505.53 218.87,478.07 219.60,461.30C220.17,448.34 220.73,436.77 221.30,424.50C221.97,440.83 222.63,450.76 223.30,473.50C223.70,487.15 224.10,528.23 224.50,534.80C225.33,548.49 226.17,555.26 227.00,556.90C228.63,560.11 230.27,561.80 231.90,561.80C233.27,561.80 234.63,559.50 236.00,558.00C237.47,556.39 238.93,552.00 240.40,552.00C241.63,552.00 242.87,555.23 244.10,557.00C245.07,558.39 246.03,561.17 247.00,561.40C248.07,561.65 249.13,561.80 250.20,561.80C251.43,561.80 252.67,561.03 253.90,560.20C255.53,559.11 257.17,555.92 258.80,552.00C260.03,549.04 261.27,544.80 262.50,537.30C262.83,535.27 263.17,531.36 263.50,527.80C264.17,520.68 264.83,510.93 265.50,502.50C265.67,511.33 265.83,525.88 266.00,529.00C266.73,542.73 267.47,545.62 268.20,549.70C268.93,553.78 269.67,556.59 270.40,558.40C271.27,560.54 272.13,561.89 273.00,563.00C274.00,564.29 275.00,566.00 276.00,566.00C277.33,566.00 278.67,565.18 280.00,564.50C282.23,563.35 284.47,561.04 286.70,558.40C288.87,555.84 291.03,551.02 293.20,547.50C295.03,544.52 296.87,542.09 298.70,538.80C300.13,536.23 301.57,533.98 303.00,530.00C303.73,527.96 304.47,527.10 305.20,521.40C305.40,519.85 305.60,508.96 305.80,507.20C306.33,502.51 306.87,501.23 307.40,499.60C308.10,497.47 308.80,496.70 309.50,495.00C310.27,493.14 311.03,492.14 311.80,488.70C312.00,487.80 312.20,486.39 312.40,484.00C312.83,478.81 313.27,450.76 313.70,436.00C314.10,422.38 314.50,410.17 314.90,398.00C315.33,384.82 315.77,385.22 316.20,360.00C316.37,350.30 316.53,263.57 316.70,250.00C317.33,198.43 317.97,197.73 318.60,170.00C319.20,143.73 319.80,115.33 320.40,88.00C320.50,142.00 320.60,212.99 320.70,250.00C320.83,299.35 320.97,349.23 321.10,360.00C321.40,384.24 321.70,389.50 322.00,398.00C322.63,415.95 323.27,423.25 323.90,436.00C324.53,448.75 325.17,465.99 325.80,474.50C326.43,483.01 327.07,491.55 327.70,493.60C328.00,494.57 328.30,495.50 328.60,495.50C329.57,495.50 330.53,483.56 331.50,474.50C332.47,465.44 333.43,451.65 334.40,436.00C335.03,425.75 335.67,411.40 336.30,398.00C336.73,388.83 337.17,383.94 337.60,369.00C337.93,357.51 338.27,322.96 338.60,300.00C338.77,288.52 338.93,277.07 339.10,265.60C339.27,277.07 339.43,286.49 339.60,300.00C339.80,316.21 340.00,346.90 340.20,360.00C340.47,377.47 340.73,388.55 341.00,398.00C341.47,414.53 341.93,425.09 342.40,436.00C343.03,450.80 343.67,460.14 344.30,474.50C344.60,481.30 344.90,492.06 345.20,497.00C346.27,514.57 347.33,528.41 348.40,532.20C350.23,538.71 352.07,543.00 353.90,543.00C355.70,543.00 357.50,534.90 359.30,534.90C361.10,534.90 362.90,539.93 364.70,543.00C366.97,546.86 369.23,553.05 371.50,556.60C375.13,562.29 378.77,568.05 382.40,570.20C384.87,571.66 387.33,572.44 389.80,573.20C393.07,574.21 396.33,575.60 399.60,575.60C402.87,575.60 406.13,575.60 409.40,575.60C412.67,575.60 415.93,572.53 419.20,569.50C421.23,567.61 423.27,565.50 425.30,559.70C426.13,557.32 426.97,551.78 427.80,542.50C428.03,539.90 428.27,533.50 428.50,529.00C429.50,535.17 430.50,540.87 431.50,547.50C432.30,552.80 433.10,562.78 433.90,564.60C436.37,570.22 438.83,572.32 441.30,573.20C445.37,574.65 449.43,575.04 453.50,575.60C457.60,576.16 461.70,576.90 465.80,576.90C469.57,576.90 473.33,576.07 477.10,575.20C479.43,574.66 481.77,573.72 484.10,572.20C485.90,571.03 487.70,568.17 489.50,565.50C490.97,563.32 492.43,561.92 493.90,557.50C494.77,554.89 495.63,545.83 496.50,540.00C496.87,545.33 497.23,552.93 497.60,556.00C498.40,562.69 499.20,566.99 500.00,569.00C501.80,573.52 503.60,576.63 505.40,577.00C508.33,577.60 511.27,577.90 514.20,577.90C517.73,577.90 521.27,577.45 524.80,577.00C528.33,576.55 531.87,575.93 535.40,574.30C537.17,573.48 538.93,569.58 540.70,567.30C543.07,564.25 545.43,562.09 547.80,558.40C549.57,555.65 551.33,553.82 553.10,547.80C554.00,544.73 554.90,535.42 555.80,526.60C556.37,521.04 556.93,514.05 557.50,505.40C557.80,500.82 558.10,494.20 558.40,488.60C558.70,495.97 559.00,503.27 559.30,510.70C559.70,520.61 560.10,534.72 560.50,540.70C561.27,552.17 562.03,560.97 562.80,563.70C564.30,569.04 565.80,571.76 567.30,572.60C569.07,573.59 570.83,574.30 572.60,574.30C575.00,574.30 577.40,572.30 579.80,572.30C581.23,572.30 582.67,573.55 584.10,574.40C586.63,575.90 589.17,580.00 591.70,580.40C593.50,580.69 595.30,580.66 597.10,580.90C600.00,581.28 602.90,582.45 605.80,583.10C607.60,583.50 609.40,583.80 611.20,584.20C614.07,584.83 616.93,585.67 619.80,586.30C621.63,586.70 623.47,587.11 625.30,587.40C628.17,587.85 631.03,588.50 633.90,588.50C635.70,588.50 637.50,588.50 639.30,588.50C641.83,588.50 644.37,587.83 646.90,587.40C648.70,587.09 650.50,586.79 652.30,586.30C654.47,585.71 656.63,584.06 658.80,583.60C659.90,583.37 661.00,583.10 662.10,583.10C662.83,583.10 663.57,584.64 664.30,585.30C666.10,586.92 667.90,589.60 669.70,589.60C670.77,589.60 671.83,589.30 672.90,589.00C674.37,588.59 675.83,587.12 677.30,586.30C680.17,584.70 683.03,582.71 685.90,582.00C688.07,581.46 690.23,580.90 692.40,580.90C694.60,580.90 696.80,583.62 699.00,584.50C702.87,586.04 706.73,588.00 710.60,588.00C714.57,588.00 718.53,587.74 722.50,587.40C725.03,587.18 727.57,585.80 730.10,585.80C731.53,585.80 732.97,587.24 734.40,588.00C737.67,589.72 740.93,592.67 744.20,593.40C746.73,593.97 749.27,594.50 751.80,594.50C755.03,594.50 758.27,594.04 761.50,593.90C766.57,593.68 771.63,593.60 776.70,593.40C781.03,593.23 785.37,593.06 789.70,592.80C793.73,592.56 797.77,592.13 801.80,591.80C804.27,591.60 806.73,591.56 809.20,591.20C810.80,590.96 812.40,589.41 814.00,588.80C816.00,588.04 818.00,587.99 820.00,587.00C821.27,586.37 822.53,584.20 823.80,582.70C825.43,580.77 827.07,578.97 828.70,576.60C829.67,575.20 830.63,571.70 831.60,571.70C832.67,571.70 833.73,577.76 834.80,580.20C836.03,583.02 837.27,586.60 838.50,587.60C840.93,589.57 843.37,590.43 845.80,591.00C846.77,591.23 847.73,591.50 848.70,591.50C850.50,591.50 852.30,588.42 854.10,588.20C856.63,587.88 859.17,587.70 861.70,587.70C864.23,587.70 866.77,588.80 869.30,588.80C872.90,588.80 876.50,588.58 880.10,588.20C882.27,587.97 884.43,586.76 886.60,585.50C889.13,584.03 891.67,580.86 894.20,577.90C895.27,576.65 896.33,573.60 897.40,573.60C898.67,573.60 899.93,583.18 901.20,584.40C902.47,585.62 903.73,586.45 905.00,586.60C907.90,586.94 910.80,587.10 913.70,587.10C915.13,587.10 916.57,579.00 918.00,579.00C918.90,579.00 919.80,581.59 920.70,582.80C922.70,585.48 924.70,589.14 926.70,590.40C928.87,591.76 931.03,593.10 933.20,593.10C935.37,593.10 937.53,591.90 939.70,591.50C941.50,591.17 943.30,590.70 945.10,590.70C947.27,590.70 949.43,591.48 951.60,591.80C953.40,592.06 955.20,592.24 957.00,592.50C959.17,592.82 961.33,593.25 963.50,593.60C965.60,593.94 967.70,594.60 969.80,594.60C973.77,594.60 977.73,593.75 981.70,593.30C983.13,593.14 984.57,592.80 986.00,592.80C987.43,592.80 988.87,593.08 990.30,593.30C993.20,593.74 996.10,594.97 999.00,595.50C1001.53,595.96 1004.07,596.60 1006.60,596.60C1009.50,596.60 1012.40,594.85 1015.30,593.30C1017.10,592.34 1018.90,590.92 1020.70,588.90C1021.77,587.70 1022.83,583.60 1023.90,583.60C1025.37,583.60 1026.83,591.11 1028.30,592.30C1030.10,593.77 1031.90,594.61 1033.70,595.00C1036.23,595.55 1038.77,596.00 1041.30,596.00C1043.80,596.00 1046.30,596.00 1048.80,596.00C1052.43,596.00 1056.07,593.90 1059.70,593.90C1061.87,593.90 1064.03,595.50 1066.20,595.50C1068.37,595.50 1070.53,595.02 1072.70,594.60C1074.13,594.32 1075.57,593.30 1077.00,593.30C1078.80,593.30 1080.60,594.77 1082.40,595.50" fill="none" stroke="#e0141e" stroke-width="2.1" stroke-dasharray="6.8,6.9" stroke-linejoin="round"/>
<g stroke="#0048b0" stroke-opacity="0.5" stroke-width="4" fill="none">
<line x1="131" y1="49" x2="131" y2="617"/>
<line x1="118" y1="616" x2="1084.3" y2="616"/>
<line x1="179.3" y1="616" x2="179.3" y2="628"/>
<line x1="327.4" y1="616" x2="327.4" y2="628"/>
<line x1="473.8" y1="616" x2="473.8" y2="628"/>
<line x1="620.3" y1="616" x2="620.3" y2="628"/>
<line x1="771.0" y1="616" x2="771.0" y2="628"/>
<line x1="913.9" y1="616" x2="913.9" y2="628"/>
<line x1="1061.6" y1="616" x2="1061.6" y2="628"/>
<line x1="119" y1="148.1" x2="131" y2="148.1"/>
<line x1="119" y1="303.9" x2="131" y2="303.9"/>
<line x1="119" y1="459.3" x2="131" y2="459.3"/>
</g>
<g stroke="#fff" stroke-width="2" fill="none">
<line x1="131" y1="50" x2="131" y2="617"/>
<line x1="119" y1="616" x2="1083.3" y2="616"/>
<line x1="179.3" y1="616" x2="179.3" y2="628"/>
<line x1="327.4" y1="616" x2="327.4" y2="628"/>
<line x1="473.8" y1="616" x2="473.8" y2="628"/>
<line x1="620.3" y1="616" x2="620.3" y2="628"/>
<line x1="771.0" y1="616" x2="771.0" y2="628"/>
<line x1="913.9" y1="616" x2="913.9" y2="628"/>
<line x1="1061.6" y1="616" x2="1061.6" y2="628"/>
<line x1="119" y1="148.1" x2="131" y2="148.1"/>
<line x1="119" y1="303.9" x2="131" y2="303.9"/>
<line x1="119" y1="459.3" x2="131" y2="459.3"/>
</g>
<g class="halo"><text x="58.45" y="66.4" font-size="19.6" textLength="65.15" lengthAdjust="spacingAndGlyphs">Intens.</text>
<text x="88.87" y="89.4" font-size="18.5" textLength="34.12" lengthAdjust="spacingAndGlyphs">[au]</text>
<text x="57.94" y="155.0" font-size="21.4" textLength="47.09" lengthAdjust="spacingAndGlyphs">6000</text>
<text x="57.88" y="310.5" font-size="21.4" textLength="47.16" lengthAdjust="spacingAndGlyphs">4000</text>
<text x="57.23" y="465.5" font-size="21.4" textLength="47.51" lengthAdjust="spacingAndGlyphs">2000</text>
<text x="92.88" y="621.8" font-size="21.4" textLength="12.17" lengthAdjust="spacingAndGlyphs">0</text>
<text x="157.23" y="650.8" font-size="21.4" textLength="47.72" lengthAdjust="spacingAndGlyphs">9000</text>
<text x="303.44" y="650.8" font-size="21.4" textLength="47.30" lengthAdjust="spacingAndGlyphs">9500</text>
<text x="446.27" y="650.8" font-size="21.4" textLength="56.76" lengthAdjust="spacingAndGlyphs">10000</text>
<text x="593.07" y="650.8" font-size="21.4" textLength="56.97" lengthAdjust="spacingAndGlyphs">10500</text>
<text x="744.89" y="650.8" font-size="21.4" textLength="54.44" lengthAdjust="spacingAndGlyphs">11000</text>
<text x="890.49" y="650.8" font-size="21.4" textLength="54.44" lengthAdjust="spacingAndGlyphs">11500</text>
<text x="1033.56" y="650.8" font-size="21.4" textLength="57.28" lengthAdjust="spacingAndGlyphs">12000</text>
<text x="1102.75" y="626.0" font-size="28" font-style="italic" textLength="44.25" lengthAdjust="spacingAndGlyphs">m/z</text>
<text x="600.65" y="45.5" font-size="27" textLength="123.00" lengthAdjust="spacingAndGlyphs">Spectra of</text>
<text x="734.99" y="45.5" font-size="27" font-style="italic" textLength="270.18" lengthAdjust="spacingAndGlyphs">Klebsiella pneumoniae</text>
<text x="602.00" y="114.0" font-size="27" textLength="52.73" lengthAdjust="spacingAndGlyphs">with</text>
<text x="663.72" y="114.0" font-size="29.5" font-style="italic" textLength="38.99" lengthAdjust="spacingAndGlyphs">bla</text>
<text x="703.21" y="120.7" font-size="19" textLength="35.72" lengthAdjust="spacingAndGlyphs">KPC</text>
<text x="746.10" y="114.0" font-size="27" textLength="146.80" lengthAdjust="spacingAndGlyphs">related peak</text>
<text x="601.16" y="167.3" font-size="27" textLength="281.45" lengthAdjust="spacingAndGlyphs">ESBL (negative control)</text></g>
<text x="58.45" y="66.4" font-size="19.6" textLength="65.15" lengthAdjust="spacingAndGlyphs">Intens.</text>
<text x="88.87" y="89.4" font-size="18.5" textLength="34.12" lengthAdjust="spacingAndGlyphs">[au]</text>
<text x="57.94" y="155.0" font-size="21.4" textLength="47.09" lengthAdjust="spacingAndGlyphs">6000</text>
<text x="57.88" y="310.5" font-size="21.4" textLength="47.16" lengthAdjust="spacingAndGlyphs">4000</text>
<text x="57.23" y="465.5" font-size="21.4" textLength="47.51" lengthAdjust="spacingAndGlyphs">2000</text>
<text x="92.88" y="621.8" font-size="21.4" textLength="12.17" lengthAdjust="spacingAndGlyphs">0</text>
<text x="157.23" y="650.8" font-size="21.4" textLength="47.72" lengthAdjust="spacingAndGlyphs">9000</text>
<text x="303.44" y="650.8" font-size="21.4" textLength="47.30" lengthAdjust="spacingAndGlyphs">9500</text>
<text x="446.27" y="650.8" font-size="21.4" textLength="56.76" lengthAdjust="spacingAndGlyphs">10000</text>
<text x="593.07" y="650.8" font-size="21.4" textLength="56.97" lengthAdjust="spacingAndGlyphs">10500</text>
<text x="744.89" y="650.8" font-size="21.4" textLength="54.44" lengthAdjust="spacingAndGlyphs">11000</text>
<text x="890.49" y="650.8" font-size="21.4" textLength="54.44" lengthAdjust="spacingAndGlyphs">11500</text>
<text x="1033.56" y="650.8" font-size="21.4" textLength="57.28" lengthAdjust="spacingAndGlyphs">12000</text>
<text x="1102.75" y="626.0" font-size="28" font-style="italic" textLength="44.25" lengthAdjust="spacingAndGlyphs">m/z</text>
<text x="600.65" y="45.5" font-size="27" textLength="123.00" lengthAdjust="spacingAndGlyphs">Spectra of</text>
<text x="734.99" y="45.5" font-size="27" font-style="italic" textLength="270.18" lengthAdjust="spacingAndGlyphs">Klebsiella pneumoniae</text>
<text x="602.00" y="114.0" font-size="27" textLength="52.73" lengthAdjust="spacingAndGlyphs">with</text>
<text x="663.72" y="114.0" font-size="29.5" font-style="italic" textLength="38.99" lengthAdjust="spacingAndGlyphs">bla</text>
<text x="703.21" y="120.7" font-size="19" textLength="35.72" lengthAdjust="spacingAndGlyphs">KPC</text>
<text x="746.10" y="114.0" font-size="27" textLength="146.80" lengthAdjust="spacingAndGlyphs">related peak</text>
<text x="601.16" y="167.3" font-size="27" textLength="281.45" lengthAdjust="spacingAndGlyphs">ESBL (negative control)</text>
<rect x="540" y="103" width="45" height="9" fill="#0048b0" fill-opacity="0.5"/>
<rect x="541" y="103.8" width="43.2" height="7" fill="#fff"/>
<rect x="541" y="158" width="14.5" height="6.5" fill="#c81a28"/>
<rect x="570" y="158" width="14.5" height="6.5" fill="#c81a28"/>
</svg>
</body></html>
